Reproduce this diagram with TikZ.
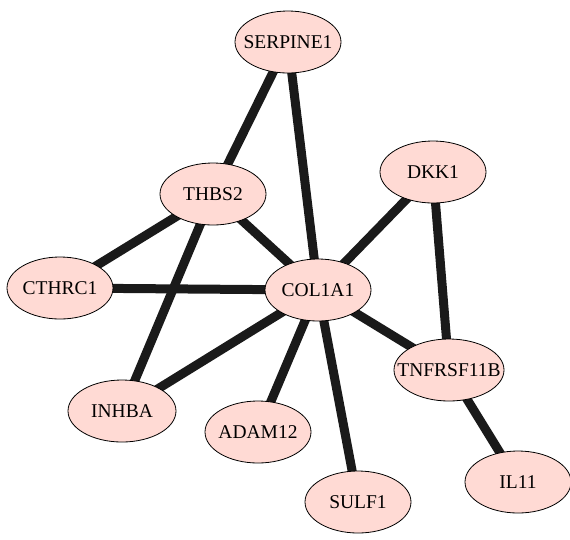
\documentclass[tikz,border=0pt]{standalone}
\usepackage{fontspec}
\setmainfont{Liberation Serif}
\definecolor{genepink}{RGB}{255,218,212}
\definecolor{edgeblack}{RGB}{26,26,26}
\usetikzlibrary{shapes,backgrounds}
\newcommand{\gname}[1]{\makebox[0pt]{#1}}

\begin{document}
\begin{tikzpicture}[x=1pt,y=-1pt,
    every node/.style={draw,ellipse,fill=genepink,line width=0.8pt,
      minimum width=106pt,minimum height=62pt,inner sep=0pt,
      font=\fontsize{19.5}{20}\selectfont},
    link/.style={edgeblack,line width=9pt}
    ]
    \useasboundingbox (0,0) rectangle (570,539);

    \node (serpine) at (288,42) {\gname{SERPINE1}};
    \node (thbs) at (213,194) {\gname{THBS2}};
    \node (dkk) at (433,172) {\gname{DKK1}};
    \node (cthrc) at (60,288) {\gname{CTHRC1}};
    \node (col) at (318,290) {\gname{COL1A1}};
    \node (tnf) [minimum width=110pt] at (449,370) {\gname{TNFRSF11B}};
    \node (inhba) [minimum width=108pt] at (122,411) {\gname{INHBA}};
    \node (adam) at (258,432) {\gname{ADAM12}};
    \node (il) at (518,482) {\gname{IL11}};
    \node (sulf) at (358,502) {\gname{SULF1}};

    % the edges
    \begin{pgfonlayer}{background}
    \draw[link] (serpine.center) -- (thbs.center);
    \draw[link] (serpine.center) -- (col.center);
    \draw[link] (thbs.center) -- (cthrc.center);
    \draw[link] (thbs.center) -- (col.center);
    \draw[link] (thbs.center) -- (inhba.center);
    \draw[link] (cthrc.center) -- (col.center);
    \draw[link] (col.center) -- (dkk.center);
    \draw[link] (col.center) -- (tnf.center);
    \draw[link] (col.center) -- (inhba.center);
    \draw[link] (col.center) -- (adam.center);
    \draw[link] (col.center) -- (sulf.center);
    \draw[link] (dkk.center) -- (tnf.center);
    \draw[link] (tnf.center) -- (il.center);
    \end{pgfonlayer}
\end{tikzpicture}
\end{document}
